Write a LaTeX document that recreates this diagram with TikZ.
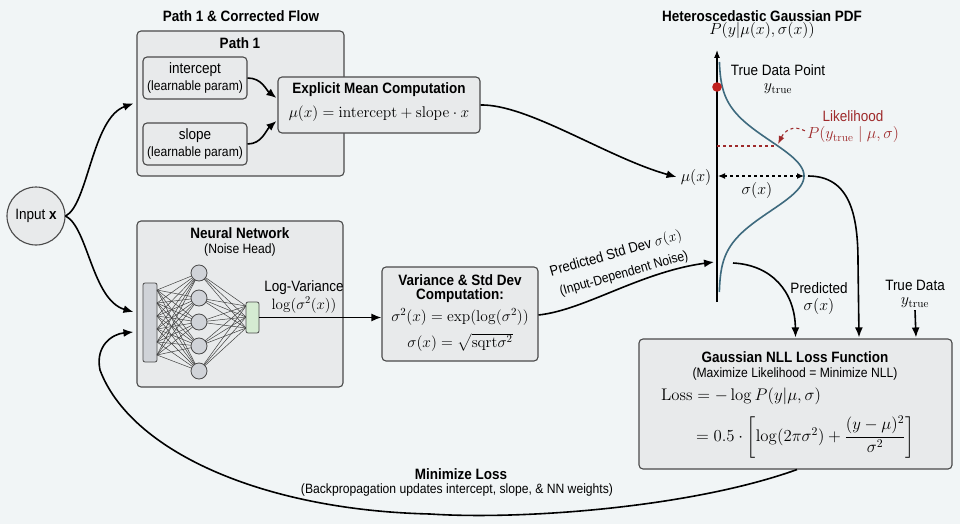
\RequirePackage{fix-cm}
\documentclass[tikz,border=0pt]{standalone}
\usepackage[no-math]{fontspec}
\setmainfont{Liberation Sans}[FakeStretch=0.9]
\usepackage{amsmath}
\usetikzlibrary{arrows.meta}
\definecolor{bg}{HTML}{F1F5F6}
\definecolor{boxfill}{HTML}{E8EAEB}
\definecolor{boxline}{HTML}{4A4A4A}
\definecolor{nodegray}{HTML}{D0D3D8}
\definecolor{outgreen}{HTML}{D5EBD2}
\definecolor{gausscol}{HTML}{3E6A7E}
\definecolor{likered}{HTML}{9E2A2B}
\definecolor{dotred}{HTML}{C0201E}
\tikzset{
  box/.style={draw=boxline, fill=boxfill, line width=1.1pt, rounded corners=4pt, inner sep=0pt},
  lbl/.style={font=\fontsize{15}{17}\selectfont, inner sep=0pt, align=center},
  hdr/.style={font=\fontsize{15}{17}\selectfont\bfseries, inner sep=0pt, align=center},
  subl/.style={font=\fontsize{13.5}{15}\selectfont, inner sep=0pt, align=center},
  mth/.style={font=\fontsize{16}{18}\selectfont, inner sep=0pt},
  conn/.style={-{Latex[length=10pt,width=8pt]}, line width=1.6pt},
  nnedge/.style={line width=0.5pt, draw=black!75},
}
\begin{document}
\begin{tikzpicture}[x=1pt,y=-1pt]
\useasboundingbox[fill=bg] (0,0) rectangle (960,524);

% ---------- Path 1 ----------
\node[hdr] (t1) at (241,16) {Path 1 \& Corrected Flow};
\node[box, minimum width=207, minimum height=145] (p1) at (240.5,103.5) {};
\node[hdr] (p1t) at (240,43) {Path 1};
\node[box, minimum width=104, minimum height=42] (ic) at (195,78) {};
\node[lbl] (ict) at (195,70) {intercept};
\node[subl] (ics) at (195,87) {(learnable param)};
\node[box, minimum width=104, minimum height=42] (sl) at (195,144) {};
\node[lbl] (slt) at (195,136) {slope};
\node[subl] (sls) at (195,153) {(learnable param)};
\node[box, minimum width=202, minimum height=56] (em) at (379,105) {};
\node[hdr] (emt) at (379,90) {Explicit Mean Computation};
\node[mth, font=\fontsize{15.5}{17}\selectfont] (emf) at (379,114) {$\mu(x) = \mathrm{intercept} + \mathrm{slope}\cdot x$};
\draw[conn] (ic.east) .. controls (262,78) and (266,90) .. ([xshift=-1pt,yshift=7pt]em.west);
\draw[conn] (sl.east) .. controls (262,144) and (266,130) .. ([xshift=-1pt,yshift=-16pt]em.west);

% ---------- Input ----------
\node[draw=boxline, fill=boxfill, line width=1.1pt, circle, minimum size=58, inner sep=0pt, font=\fontsize{15}{17}\selectfont] (in) at (36,216) {Input \textbf{x}};
\draw[conn] (in.east) .. controls (88,205) and (92,118) .. ([xshift=-3pt]p1.west);

% ---------- Neural network ----------
\node[box, minimum width=206, minimum height=166] (nn) at (240,304) {};
\draw[conn] (in.east) .. controls (88,227) and (92,300) .. ([xshift=-3pt,yshift=-8pt]nn.west);
\node[hdr] (nnt) at (240,233) {Neural Network};
\node[subl] (nns) at (240,250) {(Noise Head)};
\node[draw=boxline, fill=nodegray, line width=0.8pt, rounded corners=2pt, minimum width=14, minimum height=79, inner sep=0pt] (inl) at (150,322.5) {};
\foreach \i/\yy in {1/273,2/298,3/322,4/346,5/371}{
  \coordinate (hc\i) at (199,\yy);
}
\foreach \i in {1,...,5}{
  \foreach \yy in {290,303,316,329,342,355}{
    \draw[nnedge] (157,\yy) -- (hc\i);
  }
  \foreach \yy in {306,317,328}{
    \draw[nnedge] (hc\i) -- (246,\yy);
  }
}
\foreach \i in {1,...,5}{
  \node[draw=boxline, fill=nodegray, line width=0.8pt, circle, minimum size=16, inner sep=0pt] (h\i) at (hc\i) {};
}
\node[draw=boxline, fill=outgreen, line width=0.8pt, rounded corners=2pt, minimum width=13, minimum height=31, inner sep=0pt] (outl) at (252.5,317.5) {};
\node[lbl] (lvt) at (304,288) {Log-Variance};
\node[mth, font=\fontsize{15}{17}\selectfont] (lvf) at (304,305) {$\log(\sigma^2(x))$};

% ---------- Variance box ----------
\node[box, minimum width=156, minimum height=94] (var) at (460,314) {};
\node[hdr] (vart1) at (460,280) {Variance \& Std Dev};
\node[hdr] (vart2) at (460,296) {Computation:};
\node[mth, font=\fontsize{15.5}{17}\selectfont] (varf1) at (460,317) {$\sigma^2(x) = \exp(\log(\sigma^2))$};
\node[mth, font=\fontsize{15.5}{17}\selectfont] (varf2) at (460,342) {$\sigma(x) = \sqrt{\mathrm{sqrt}\sigma^2}$};
\draw[conn] (outl.east) -- (outl.east -| var.west);

% ---------- Gaussian PDF ----------
\node[hdr] (gt) at (762,16) {Heteroscedastic Gaussian PDF};
\node[mth] (gf) at (762,31) {$P(y|\mu(x),\sigma(x))$};
\coordinate (axb) at (717,302);
\coordinate (axt) at (717,50);
\draw[-{Latex[length=8pt,width=6pt]}, line width=1.1pt] (axb) -- (axt);
\draw[gausscol, line width=1.6pt] plot[variable=\t, domain=62:292, samples=90, smooth] ({719+85*exp(-((\t-176)*(\t-176))/2450)}, \t);
\fill[dotred] (717,87) circle (4.8);
\node[lbl] (tdp) at (778,70) {True Data Point};
\node[mth] (tdpy) at (778,89) {$y_{\mathrm{true}}$};
\draw[likered, dashed, line width=1.1pt] (717,146) -- (777,146);
\node[lbl, text=likered] (lk) at (853,116) {Likelihood};
\node[mth, text=likered] (lkf) at (853,135) {$P(y_{\mathrm{true}}\mid\mu,\sigma)$};
\draw[likered, dashed, line width=1.1pt, -{Latex[length=8pt,width=6pt]}] ([xshift=-2pt,yshift=-4pt]lkf.north west) .. controls (792,124) and (784,132) .. (778,144);
\coordinate (peak) at (804,176);
\draw[dashed, line width=1.1pt, {Latex[length=7pt,width=6pt]}-{Latex[length=7pt,width=6pt]}] (718,176) -- (peak);
\node[mth] (sg) at (757,190) {$\sigma(x)$};
\node[mth] (mu) at (696,177) {$\mu(x)$};
\draw[conn] (em.east) .. controls (528,104) and (608,158) .. ([xshift=-4pt]mu.west);

% ---------- arrow into axis ----------
\coordinate (axs) at (714,262);
\draw[conn] ([yshift=-1pt]var.east) .. controls (585,310) and (640,272) .. (axs);
\node[font=\fontsize{14.5}{16}\selectfont, inner sep=0pt, rotate=16] (psd1) at (616,254) {Predicted Std Dev $\sigma(x)$};
\node[font=\fontsize{13.5}{15}\selectfont, inner sep=0pt, rotate=16] (psd2) at (624,274) {(Input-Dependent Noise)};

% ---------- Loss box ----------
\node[box, minimum width=313, minimum height=130] (loss) at (795.5,404) {};
\node[hdr] (lt) at (795,357) {Gaussian NLL Loss Function};
\node[subl] (ls) at (795,374) {(Maximize Likelihood = Minimize NLL)};
\node[mth, font=\fontsize{16.8}{18}\selectfont, anchor=west] (lf1) at (661,396) {$\mathrm{Loss} = -\log P(y|\mu,\sigma)$};
\node[mth, font=\fontsize{16.8}{18}\selectfont, anchor=west] (lf2) at (696,437) {$= 0.5\cdot\left[\log(2\pi\sigma^2)+\dfrac{(y-\mu)^2}{\sigma^2}\right]$};

\coordinate (ps) at (733,263);
\draw[conn] (ps) .. controls (772,265) and (795,292) .. ([yshift=1pt]loss.north);
\node[lbl] (pr) at (819,288) {Predicted};
\node[mth] (prs) at (819,306) {$\sigma(x)$};
\draw[conn] ([xshift=4pt]peak) .. controls (850,176) and (858,215) .. (858,262) -- ([xshift=63.5pt,yshift=1pt]loss.north);
\node[lbl] (td) at (915,285) {True Data};
\node[mth] (tdy) at (915,303) {$y_{\mathrm{true}}$};
\draw[conn] ([yshift=-2pt]tdy.south) -- ([xshift=120.5pt,yshift=1pt]loss.north);

% ---------- Backprop loop ----------
\draw[conn] ([xshift=1.5pt]loss.south) .. controls (690,508) and (520,520) .. (430,514) .. controls (260,510) and (130,450) .. (100,370) .. controls (95,346) and (112,334) .. ([xshift=-3pt,yshift=-28pt]nn.west);
\node[hdr] (ml) at (461,474) {Minimize Loss};
\node[subl] (mls) at (457,490) {(Backpropagation updates intercept, slope, \& NN weights)};
\end{tikzpicture}
\end{document}
